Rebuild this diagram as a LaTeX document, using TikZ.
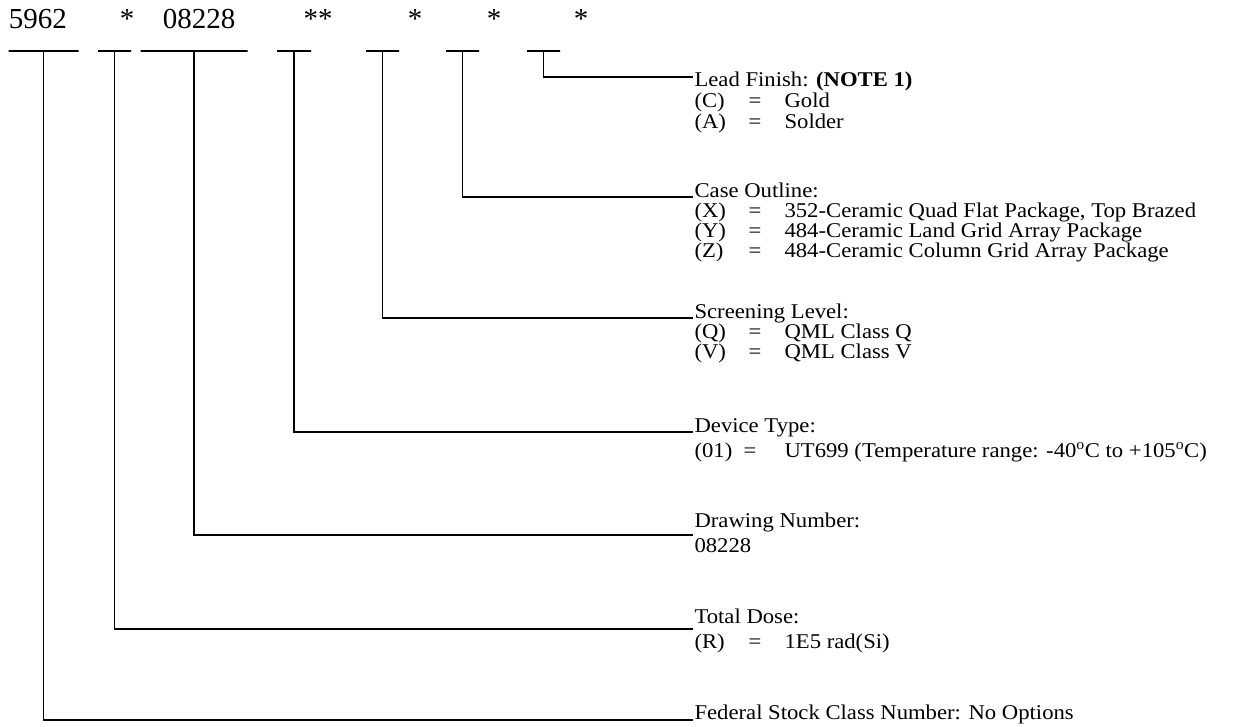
\documentclass[tikz,border=0pt]{standalone}
\usepackage{fontspec}
\setmainfont{Liberation Serif}
\newfontfamily\labfont[FakeStretch=1.08]{Liberation Serif}
% one option line: key, "=", value in fixed columns
\newcommand\opt[3][54pt]{\makebox[#1][l]{#2}\makebox[\dimexpr90pt-#1\relax][l]{=}#3}
% lines of a label, baseline of the first line is the node baseline
\newcommand\labrows[1]{\vtop{\lineskiplimit=-50pt\relax#1}}
\newcommand\row[1]{\hbox{#1}}
\begin{document}
\begin{tikzpicture}[x=1pt,y=-1pt,line width=1.1pt,
  every node/.style={inner sep=0pt},
  digit/.style={font=\fontsize{29}{30}\selectfont,anchor=base},
  field/.style={draw,minimum height=0pt,minimum width=#1},
  lab/.style={anchor=base west,font=\labfont\fontsize{21}{20}\selectfont}]
  \useasboundingbox (0,0) rectangle (1238,726);
  % part number
  \node[digit] (pfsc) at (38,28) {5962};
  \node[digit] (pdose) at (127,28) {*};
  \node[digit] (pdwg) at (199,28) {08228};
  \node[digit] (ptype) at (318,28) {**};
  \node[digit] (pscr) at (415,28) {*};
  \node[digit] (pcase) at (494,28) {*};
  \node[digit] (plead) at (581,28) {*};
  % fields
  \node[field=70pt] (ufsc) at (43.5,51) {};
  \node[field=33pt] (udose) at (114.5,51) {};
  \node[field=107pt] (udwg) at (194,51) {};
  \node[field=34pt] (utype) at (294,51) {};
  \node[field=33pt] (uscr) at (382.5,51) {};
  \node[field=33pt] (ucase) at (462.5,51) {};
  \node[field=33pt] (ulead) at (543.5,51) {};
  % line ends
  \coordinate (elead) at (693,77);
  \coordinate (ecase) at (693,197);
  \coordinate (escr) at (693,318);
  \coordinate (etype) at (693,432);
  \coordinate (edwg) at (693,535);
  \coordinate (edose) at (693,629);
  \coordinate (efsc) at (693,720);
  % labels
  \node[lab] (lead) at (694,86) {\labrows{\row{Lead Finish: \textbf{(NOTE 1)}}\vskip1pt
    \row{\opt{(C)}{Gold}}\vskip1pt\row{\opt{(A)}{Solder}}}};
  \node[lab] (case) at (694,197) {\labrows{\row{Case Outline:}
    \row{\opt{(X)}{352-Ceramic Quad Flat Package, Top Brazed}}
    \row{\opt{(Y)}{484-Ceramic Land Grid Array Package}}
    \row{\opt{(Z)}{484-Ceramic Column Grid Array Package}}}};
  \node[lab] (scr) at (694,318) {\labrows{\row{Screening Level:}
    \row{\opt{(Q)}{QML Class Q}}\row{\opt{(V)}{QML Class V}}}};
  \node[lab] (type) at (694,432) {\labrows{\row{Device Type:}\vskip5pt
    \row{\opt[49pt]{(01)}{UT699 (Temperature range: -40\textsuperscript{o}C to +105\textsuperscript{o}C)}}}};
  \node[lab] (dwg) at (694,527) {\labrows{\row{Drawing Number:}\vskip5pt\row{08228}}};
  \node[lab] (dose) at (694,623) {\labrows{\row{Total Dose:}\vskip5pt\row{\opt{(R)}{1E5 rad(Si)}}}};
  \node[lab] (fsc) at (694,719) {Federal Stock Class Number: No Options};
  % leaders
  \draw (ulead.south) |- (elead);
  \draw (ucase.south) |- (ecase);
  \draw (uscr.south) |- (escr);
  \draw (utype.south) |- (etype);
  \draw (udwg.south) |- (edwg);
  \draw (udose.south) |- (edose);
  \draw (ufsc.south) |- (efsc);
\end{tikzpicture}
\end{document}
